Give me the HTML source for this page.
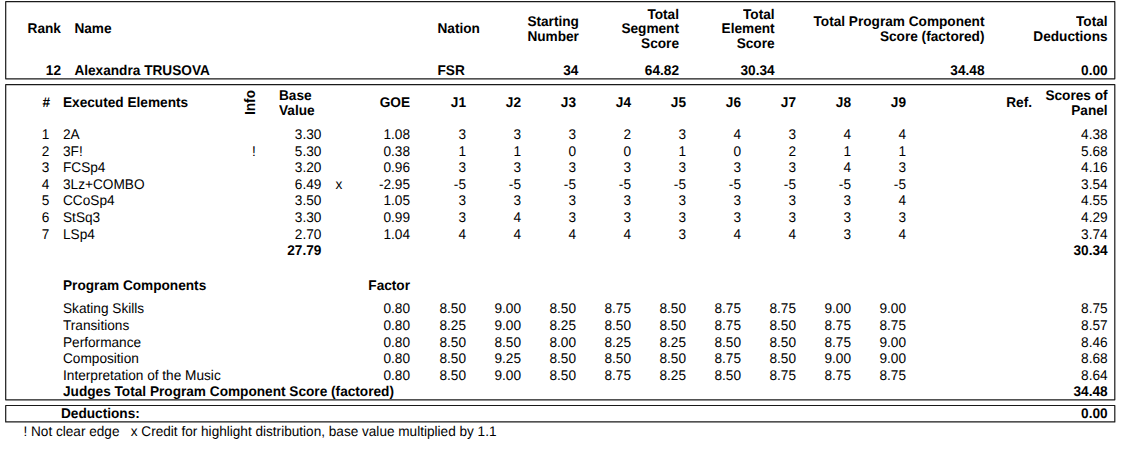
<!DOCTYPE html>
<html lang="en"><head><meta charset="utf-8"><title>Protocol</title>
<style>
html,body{margin:0;padding:0;background:#fff;}
body{width:1129px;height:450px;position:relative;overflow:hidden;font-family:"Liberation Sans",sans-serif;color:#000;}
.t{position:absolute;white-space:nowrap;font-size:13.65px;line-height:16px;height:16px;}
.t{transform:scaleY(1.03);transform-origin:0 12px;text-rendering:geometricPrecision;}
.b{font-weight:bold;}
.r{text-align:right;}
.c{text-align:center;width:60px;}
.info{position:absolute;font-weight:bold;font-size:13.65px;line-height:16px;white-space:nowrap;transform-origin:0 0;transform:rotate(-90deg) scaleY(1.1);}
</style></head><body>
<svg width="1129" height="450" style="position:absolute;left:0;top:0"><g fill="none" stroke="#1a1a1a" stroke-width="1.2" stroke-linejoin="round"><rect x="5.7" y="1.65" width="1109.1" height="77.15"/><rect x="5.7" y="84.6" width="1109.1" height="315.2"/><rect x="5.7" y="405.5" width="1109.1" height="16.4"/></g></svg>
<div class="info" style="left:241.6px;top:115px">Info</div>
<div class="t b" style="left:27.6px;top:21px">Rank</div>
<div class="t b" style="left:74.4px;top:21px">Name</div>
<div class="t b" style="left:437.5px;top:21px">Nation</div>
<div class="t b" style="left:527.4px;top:14px">Starting</div>
<div class="t b" style="left:527.4px;top:29px">Number</div>
<div class="t b r" style="right:450px;top:7px">Total</div>
<div class="t b r" style="right:450px;top:21px">Segment</div>
<div class="t b r" style="right:450px;top:36px">Score</div>
<div class="t b r" style="right:354.4px;top:7px">Total</div>
<div class="t b r" style="right:354.4px;top:21px">Element</div>
<div class="t b r" style="right:354.4px;top:36px">Score</div>
<div class="t b r" style="right:144.5px;top:14px">Total Program Component</div>
<div class="t b r" style="right:144.5px;top:29px">Score (factored)</div>
<div class="t b r" style="right:21.4px;top:14px">Total</div>
<div class="t b r" style="right:21.4px;top:29px">Deductions</div>
<div class="t b r" style="right:1068px;top:63px">12</div>
<div class="t b" style="left:74.4px;top:63px">Alexandra TRUSOVA</div>
<div class="t b" style="left:437.5px;top:63px">FSR</div>
<div class="t b r" style="right:550.6px;top:63px">34</div>
<div class="t b r" style="right:450px;top:63px">64.82</div>
<div class="t b r" style="right:354.4px;top:63px">30.34</div>
<div class="t b r" style="right:144.5px;top:63px">34.48</div>
<div class="t b r" style="right:21.4px;top:63px">0.00</div>
<div class="t b r" style="right:1079px;top:95px">#</div>
<div class="t b" style="left:63px;top:95px">Executed Elements</div>
<div class="t b" style="left:279px;top:88px">Base</div>
<div class="t b" style="left:279px;top:103px">Value</div>
<div class="t b r" style="right:719px;top:95px">GOE</div>
<div class="t b r" style="right:663.0px;top:95px">J1</div>
<div class="t b r" style="right:608.0px;top:95px">J2</div>
<div class="t b r" style="right:553.0px;top:95px">J3</div>
<div class="t b r" style="right:498.0px;top:95px">J4</div>
<div class="t b r" style="right:443.0px;top:95px">J5</div>
<div class="t b r" style="right:388.0px;top:95px">J6</div>
<div class="t b r" style="right:333.0px;top:95px">J7</div>
<div class="t b r" style="right:278.0px;top:95px">J8</div>
<div class="t b r" style="right:223.0px;top:95px">J9</div>
<div class="t b r" style="right:97px;top:95px">Ref.</div>
<div class="t b r" style="right:21.4px;top:88px">Scores of</div>
<div class="t b r" style="right:21.4px;top:103px">Panel</div>
<div class="t r" style="right:1079.6px;top:127px">1</div>
<div class="t" style="left:63px;top:127px">2A</div>
<div class="t r" style="right:807.6px;top:127px">3.30</div>
<div class="t r" style="right:719px;top:127px">1.08</div>
<div class="t r" style="right:663.0px;top:127px">3</div>
<div class="t r" style="right:608.0px;top:127px">3</div>
<div class="t r" style="right:553.0px;top:127px">3</div>
<div class="t r" style="right:498.0px;top:127px">2</div>
<div class="t r" style="right:443.0px;top:127px">3</div>
<div class="t r" style="right:388.0px;top:127px">4</div>
<div class="t r" style="right:333.0px;top:127px">3</div>
<div class="t r" style="right:278.0px;top:127px">4</div>
<div class="t r" style="right:223.0px;top:127px">4</div>
<div class="t r" style="right:21.4px;top:127px">4.38</div>
<div class="t r" style="right:1079.6px;top:144px">2</div>
<div class="t" style="left:63px;top:144px">3F!</div>
<div class="t c" style="left:224px;top:144px">!</div>
<div class="t r" style="right:807.6px;top:144px">5.30</div>
<div class="t r" style="right:719px;top:144px">0.38</div>
<div class="t r" style="right:663.0px;top:144px">1</div>
<div class="t r" style="right:608.0px;top:144px">1</div>
<div class="t r" style="right:553.0px;top:144px">0</div>
<div class="t r" style="right:498.0px;top:144px">0</div>
<div class="t r" style="right:443.0px;top:144px">1</div>
<div class="t r" style="right:388.0px;top:144px">0</div>
<div class="t r" style="right:333.0px;top:144px">2</div>
<div class="t r" style="right:278.0px;top:144px">1</div>
<div class="t r" style="right:223.0px;top:144px">1</div>
<div class="t r" style="right:21.4px;top:144px">5.68</div>
<div class="t r" style="right:1079.6px;top:160px">3</div>
<div class="t" style="left:63px;top:160px">FCSp4</div>
<div class="t r" style="right:807.6px;top:160px">3.20</div>
<div class="t r" style="right:719px;top:160px">0.96</div>
<div class="t r" style="right:663.0px;top:160px">3</div>
<div class="t r" style="right:608.0px;top:160px">3</div>
<div class="t r" style="right:553.0px;top:160px">3</div>
<div class="t r" style="right:498.0px;top:160px">3</div>
<div class="t r" style="right:443.0px;top:160px">3</div>
<div class="t r" style="right:388.0px;top:160px">3</div>
<div class="t r" style="right:333.0px;top:160px">3</div>
<div class="t r" style="right:278.0px;top:160px">4</div>
<div class="t r" style="right:223.0px;top:160px">3</div>
<div class="t r" style="right:21.4px;top:160px">4.16</div>
<div class="t r" style="right:1079.6px;top:177px">4</div>
<div class="t" style="left:63px;top:177px">3Lz+COMBO</div>
<div class="t r" style="right:807.6px;top:177px">6.49</div>
<div class="t c" style="left:309px;top:177px">x</div>
<div class="t r" style="right:719px;top:177px">-2.95</div>
<div class="t r" style="right:663.0px;top:177px">-5</div>
<div class="t r" style="right:608.0px;top:177px">-5</div>
<div class="t r" style="right:553.0px;top:177px">-5</div>
<div class="t r" style="right:498.0px;top:177px">-5</div>
<div class="t r" style="right:443.0px;top:177px">-5</div>
<div class="t r" style="right:388.0px;top:177px">-5</div>
<div class="t r" style="right:333.0px;top:177px">-5</div>
<div class="t r" style="right:278.0px;top:177px">-5</div>
<div class="t r" style="right:223.0px;top:177px">-5</div>
<div class="t r" style="right:21.4px;top:177px">3.54</div>
<div class="t r" style="right:1079.6px;top:193px">5</div>
<div class="t" style="left:63px;top:193px">CCoSp4</div>
<div class="t r" style="right:807.6px;top:193px">3.50</div>
<div class="t r" style="right:719px;top:193px">1.05</div>
<div class="t r" style="right:663.0px;top:193px">3</div>
<div class="t r" style="right:608.0px;top:193px">3</div>
<div class="t r" style="right:553.0px;top:193px">3</div>
<div class="t r" style="right:498.0px;top:193px">3</div>
<div class="t r" style="right:443.0px;top:193px">3</div>
<div class="t r" style="right:388.0px;top:193px">3</div>
<div class="t r" style="right:333.0px;top:193px">3</div>
<div class="t r" style="right:278.0px;top:193px">3</div>
<div class="t r" style="right:223.0px;top:193px">4</div>
<div class="t r" style="right:21.4px;top:193px">4.55</div>
<div class="t r" style="right:1079.6px;top:210px">6</div>
<div class="t" style="left:63px;top:210px">StSq3</div>
<div class="t r" style="right:807.6px;top:210px">3.30</div>
<div class="t r" style="right:719px;top:210px">0.99</div>
<div class="t r" style="right:663.0px;top:210px">3</div>
<div class="t r" style="right:608.0px;top:210px">4</div>
<div class="t r" style="right:553.0px;top:210px">3</div>
<div class="t r" style="right:498.0px;top:210px">3</div>
<div class="t r" style="right:443.0px;top:210px">3</div>
<div class="t r" style="right:388.0px;top:210px">3</div>
<div class="t r" style="right:333.0px;top:210px">3</div>
<div class="t r" style="right:278.0px;top:210px">3</div>
<div class="t r" style="right:223.0px;top:210px">3</div>
<div class="t r" style="right:21.4px;top:210px">4.29</div>
<div class="t r" style="right:1079.6px;top:227px">7</div>
<div class="t" style="left:63px;top:227px">LSp4</div>
<div class="t r" style="right:807.6px;top:227px">2.70</div>
<div class="t r" style="right:719px;top:227px">1.04</div>
<div class="t r" style="right:663.0px;top:227px">4</div>
<div class="t r" style="right:608.0px;top:227px">4</div>
<div class="t r" style="right:553.0px;top:227px">4</div>
<div class="t r" style="right:498.0px;top:227px">4</div>
<div class="t r" style="right:443.0px;top:227px">3</div>
<div class="t r" style="right:388.0px;top:227px">4</div>
<div class="t r" style="right:333.0px;top:227px">4</div>
<div class="t r" style="right:278.0px;top:227px">3</div>
<div class="t r" style="right:223.0px;top:227px">4</div>
<div class="t r" style="right:21.4px;top:227px">3.74</div>
<div class="t b r" style="right:807.6px;top:243px">27.79</div>
<div class="t b r" style="right:21.4px;top:243px">30.34</div>
<div class="t b" style="left:63px;top:278px">Program Components</div>
<div class="t b r" style="right:719px;top:278px">Factor</div>
<div class="t" style="left:63px;top:301px">Skating Skills</div>
<div class="t r" style="right:719px;top:301px">0.80</div>
<div class="t r" style="right:663.0px;top:301px">8.50</div>
<div class="t r" style="right:608.0px;top:301px">9.00</div>
<div class="t r" style="right:553.0px;top:301px">8.50</div>
<div class="t r" style="right:498.0px;top:301px">8.75</div>
<div class="t r" style="right:443.0px;top:301px">8.50</div>
<div class="t r" style="right:388.0px;top:301px">8.75</div>
<div class="t r" style="right:333.0px;top:301px">8.75</div>
<div class="t r" style="right:278.0px;top:301px">9.00</div>
<div class="t r" style="right:223.0px;top:301px">9.00</div>
<div class="t r" style="right:21.4px;top:301px">8.75</div>
<div class="t" style="left:63px;top:318px">Transitions</div>
<div class="t r" style="right:719px;top:318px">0.80</div>
<div class="t r" style="right:663.0px;top:318px">8.25</div>
<div class="t r" style="right:608.0px;top:318px">9.00</div>
<div class="t r" style="right:553.0px;top:318px">8.25</div>
<div class="t r" style="right:498.0px;top:318px">8.50</div>
<div class="t r" style="right:443.0px;top:318px">8.50</div>
<div class="t r" style="right:388.0px;top:318px">8.75</div>
<div class="t r" style="right:333.0px;top:318px">8.50</div>
<div class="t r" style="right:278.0px;top:318px">8.75</div>
<div class="t r" style="right:223.0px;top:318px">8.75</div>
<div class="t r" style="right:21.4px;top:318px">8.57</div>
<div class="t" style="left:63px;top:335px">Performance</div>
<div class="t r" style="right:719px;top:335px">0.80</div>
<div class="t r" style="right:663.0px;top:335px">8.50</div>
<div class="t r" style="right:608.0px;top:335px">8.50</div>
<div class="t r" style="right:553.0px;top:335px">8.00</div>
<div class="t r" style="right:498.0px;top:335px">8.25</div>
<div class="t r" style="right:443.0px;top:335px">8.25</div>
<div class="t r" style="right:388.0px;top:335px">8.50</div>
<div class="t r" style="right:333.0px;top:335px">8.50</div>
<div class="t r" style="right:278.0px;top:335px">8.75</div>
<div class="t r" style="right:223.0px;top:335px">9.00</div>
<div class="t r" style="right:21.4px;top:335px">8.46</div>
<div class="t" style="left:63px;top:351px">Composition</div>
<div class="t r" style="right:719px;top:351px">0.80</div>
<div class="t r" style="right:663.0px;top:351px">8.50</div>
<div class="t r" style="right:608.0px;top:351px">9.25</div>
<div class="t r" style="right:553.0px;top:351px">8.50</div>
<div class="t r" style="right:498.0px;top:351px">8.50</div>
<div class="t r" style="right:443.0px;top:351px">8.50</div>
<div class="t r" style="right:388.0px;top:351px">8.75</div>
<div class="t r" style="right:333.0px;top:351px">8.50</div>
<div class="t r" style="right:278.0px;top:351px">9.00</div>
<div class="t r" style="right:223.0px;top:351px">9.00</div>
<div class="t r" style="right:21.4px;top:351px">8.68</div>
<div class="t" style="left:63px;top:368px">Interpretation of the Music</div>
<div class="t r" style="right:719px;top:368px">0.80</div>
<div class="t r" style="right:663.0px;top:368px">8.50</div>
<div class="t r" style="right:608.0px;top:368px">9.00</div>
<div class="t r" style="right:553.0px;top:368px">8.50</div>
<div class="t r" style="right:498.0px;top:368px">8.75</div>
<div class="t r" style="right:443.0px;top:368px">8.25</div>
<div class="t r" style="right:388.0px;top:368px">8.50</div>
<div class="t r" style="right:333.0px;top:368px">8.75</div>
<div class="t r" style="right:278.0px;top:368px">8.75</div>
<div class="t r" style="right:223.0px;top:368px">8.75</div>
<div class="t r" style="right:21.4px;top:368px">8.64</div>
<div class="t b" style="left:63px;top:384px">Judges Total Program Component Score (factored)</div>
<div class="t b r" style="right:21.4px;top:384px">34.48</div>
<div class="t b" style="left:61px;top:406px">Deductions:</div>
<div class="t b r" style="right:21.4px;top:406px">0.00</div>
<div class="t" style="left:23.5px;top:424px;font-size:13.6px">! Not clear edge   x Credit for highlight distribution, base value multiplied by 1.1</div>
</body></html>
